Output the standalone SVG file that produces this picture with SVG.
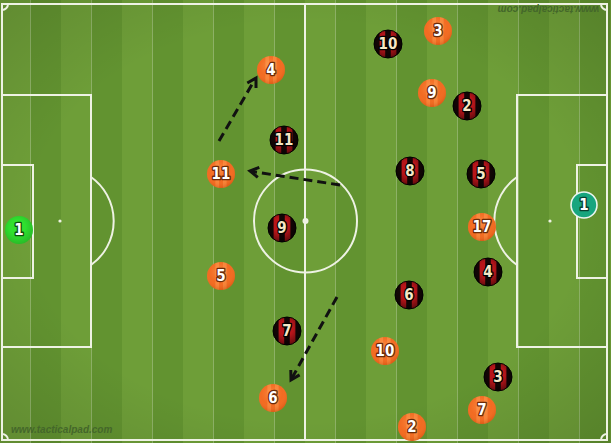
<svg xmlns="http://www.w3.org/2000/svg" xmlns:xlink="http://www.w3.org/1999/xlink" width="611" height="443" viewBox="0 0 611 443">
<style>
.ln{fill:none;stroke:#eef2e4;stroke-width:2}
.arr{fill:none;stroke:#111;stroke-width:3}
.dash{stroke-dasharray:9 5}
.num{font-family:"DejaVu Sans Condensed","DejaVu Sans",sans-serif;font-weight:bold;font-size:15px;text-anchor:middle;paint-order:stroke;stroke-linejoin:round}
.o{fill:#ffffff;stroke:#6b2a08;stroke-width:2.6}
.r{fill:#f6e7c6;stroke:#000;stroke-width:2.6}
.g{fill:#ffffff;stroke:#0d4d0d;stroke-width:2.6}
.wm{font-family:"Liberation Sans",Arial,sans-serif;font-style:italic;font-weight:bold;font-size:10px;fill:#44672a}
</style>
<defs>
<pattern id="grass" patternUnits="userSpaceOnUse" width="61" height="443">
<rect width="30.5" height="443" fill="#6e9e38"/>
<rect x="30.5" width="30.5" height="443" fill="#629330"/>
</pattern>
<radialGradient id="vig" cx="0.5" cy="0.5" r="0.75">
<stop offset="0.6" stop-color="#000" stop-opacity="0"/>
<stop offset="1" stop-color="#000" stop-opacity="0.14"/>
</radialGradient>
<pattern id="rstripe" patternContentUnits="objectBoundingBox" width="1" height="1">
<rect width="1" height="1" fill="#140606"/>
<rect x="0.2" width="0.2" height="1" fill="#b8151a"/>
<rect x="0.6" width="0.2" height="1" fill="#b8151a"/>
</pattern>
<pattern id="ostripe" patternContentUnits="objectBoundingBox" width="1" height="1">
<rect width="1" height="1" fill="#f26b22"/>
<rect x="0.3" width="0.13" height="1" fill="#f8853a"/>
<rect x="0.57" width="0.13" height="1" fill="#f8853a"/>
</pattern>
<radialGradient id="shade" cx="0.45" cy="0.4" r="0.6">
<stop offset="0.45" stop-color="#000" stop-opacity="0"/>
<stop offset="1" stop-color="#000" stop-opacity="0.45"/>
</radialGradient>
<radialGradient id="oshade" cx="0.45" cy="0.35" r="0.65">
<stop offset="0" stop-color="#ffb070" stop-opacity="0.5"/>
<stop offset="0.6" stop-color="#ff9040" stop-opacity="0"/>
<stop offset="1" stop-color="#b43c00" stop-opacity="0.35"/>
</radialGradient>
<g id="om"><circle r="14" fill="url(#ostripe)"/><circle r="14" fill="url(#oshade)"/></g>
<g id="rm"><circle r="14" fill="url(#rstripe)"/><circle r="14" fill="url(#shade)"/><circle r="14" fill="none" stroke="#000" stroke-width="1"/></g>
</defs>

<rect width="611" height="443" fill="url(#grass)"/>
<rect width="611" height="443" fill="url(#vig)"/>

<g id="pitch">
<rect class="ln" x="2" y="4" width="605" height="436"/>
<line class="ln" x1="305" y1="4" x2="305" y2="440"/>
<circle class="ln" cx="305.5" cy="221" r="51.5"/>
<circle cx="305.5" cy="221" r="3" fill="#eef2e4"/>
<rect class="ln" x="2" y="95" width="89" height="252"/>
<rect class="ln" x="2" y="165" width="31" height="113"/>
<rect class="ln" x="517" y="95" width="90" height="252"/>
<rect class="ln" x="577" y="165" width="30" height="113"/>
<circle cx="60" cy="221" r="1.6" fill="#eef2e4"/>
<circle cx="550" cy="221" r="1.6" fill="#eef2e4"/>
<path class="ln" d="M91,177 A54,54 0 0 1 91,265"/>
<path class="ln" d="M517,177 A54,54 0 0 0 517,265"/>
<path class="ln" d="M2,10 A6,6 0 0 0 8,4"/>
<path class="ln" d="M601,4 A6,6 0 0 0 607,10"/>
<path class="ln" d="M2,434 A6,6 0 0 1 8,440"/>
<path class="ln" d="M601,440 A6,6 0 0 1 607,434"/>
</g>

<text class="wm" x="11" y="433">www.tacticalpad.com</text>
<text class="wm" transform="translate(599,6) rotate(180)" x="0" y="0">www.tacticalpad.com</text>

<g id="connectors">
<line class="arr dash" x1="219" y1="141" x2="254" y2="81"/>
<polyline class="arr" points="247.3,83 256,78 256,88"/>
<line class="arr dash" x1="340" y1="185" x2="252" y2="171.5"/>
<polyline class="arr" points="257.8,177.3 250,171 259.3,167.4"/>
<line class="arr dash" x1="337" y1="297" x2="292" y2="378"/>
<polyline class="arr" points="299.6,374.9 291,380 290.8,370"/>
</g>

<g id="gk-green" transform="translate(19,230)"><circle r="14" fill="#2fe02f"/><circle r="14" fill="url(#shade)" opacity="0.35"/><text class="num g" y="5">1</text></g>
<g id="gk-teal" transform="translate(584,205)"><circle r="13" fill="#17a57e" stroke="#e9f5ef" stroke-width="1.6"/><text class="num g" y="5" style="stroke:#08402f">1</text></g>

<g id="o3" transform="translate(438,31)"><use href="#om"/><text class="num o" y="5">3</text></g>
<g id="o4" transform="translate(271,70)"><use href="#om"/><text class="num o" y="5">4</text></g>
<g id="o9" transform="translate(432,93)"><use href="#om"/><text class="num o" y="5">9</text></g>
<g id="o11" transform="translate(221,174)"><use href="#om"/><text class="num o" y="5">11</text></g>
<g id="o17" transform="translate(482,227)"><use href="#om"/><text class="num o" y="5">17</text></g>
<g id="o5" transform="translate(221,276)"><use href="#om"/><text class="num o" y="5">5</text></g>
<g id="o10" transform="translate(385,351)"><use href="#om"/><text class="num o" y="5">10</text></g>
<g id="o6" transform="translate(273,398)"><use href="#om"/><text class="num o" y="5">6</text></g>
<g id="o7" transform="translate(482,410)"><use href="#om"/><text class="num o" y="5">7</text></g>
<g id="o2" transform="translate(412,427)"><use href="#om"/><text class="num o" y="5">2</text></g>

<g id="r10" transform="translate(388,44)"><use href="#rm"/><text class="num r" y="5">10</text></g>
<g id="r2" transform="translate(467,106)"><use href="#rm"/><text class="num r" y="5">2</text></g>
<g id="r11" transform="translate(284,140)"><use href="#rm"/><text class="num r" y="5">11</text></g>
<g id="r8" transform="translate(410,171)"><use href="#rm"/><text class="num r" y="5">8</text></g>
<g id="r5" transform="translate(481,174)"><use href="#rm"/><text class="num r" y="5">5</text></g>
<g id="r9" transform="translate(282,228)"><use href="#rm"/><text class="num r" y="5">9</text></g>
<g id="r4" transform="translate(488,272)"><use href="#rm"/><text class="num r" y="5">4</text></g>
<g id="r6" transform="translate(409,295)"><use href="#rm"/><text class="num r" y="5">6</text></g>
<g id="r7" transform="translate(287,331)"><use href="#rm"/><text class="num r" y="5">7</text></g>
<g id="r3" transform="translate(498,377)"><use href="#rm"/><text class="num r" y="5">3</text></g>
</svg>
